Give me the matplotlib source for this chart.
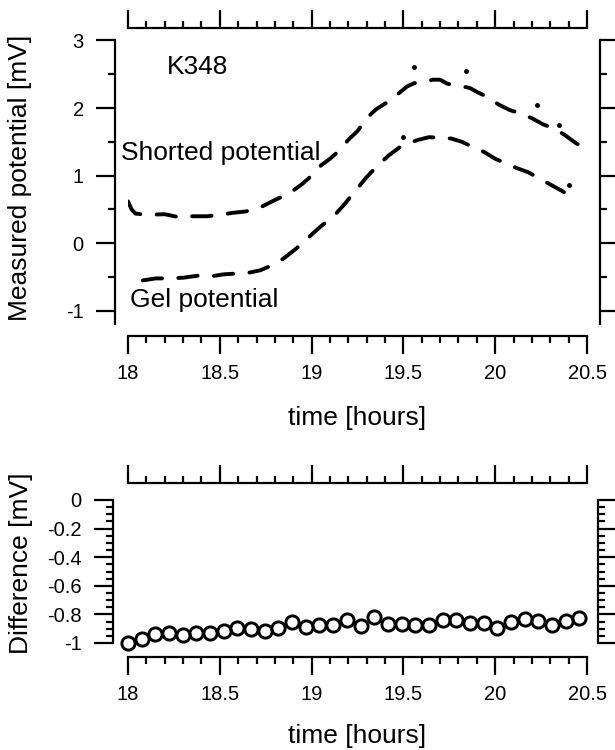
import matplotlib
matplotlib.use("Agg")
import matplotlib.pyplot as plt
from matplotlib.ticker import MultipleLocator, FuncFormatter

plt.rcParams["font.family"] = ["Liberation Sans", "DejaVu Sans"]
plt.rcParams["axes.unicode_minus"] = False

# --- data ------------------------------------------------------------------
shorted_t = [18.00, 18.02, 18.04, 18.10, 18.20, 18.27, 18.35, 18.43, 18.50, 18.57,
             18.64, 18.72, 18.80, 18.88, 18.95, 19.00, 19.05, 19.10, 19.15, 19.20,
             19.25, 19.30, 19.35, 19.42, 19.48, 19.52, 19.56, 19.62, 19.66, 19.70,
             19.74, 19.80, 19.86, 19.90, 19.96, 20.02, 20.08, 20.14, 20.20, 20.26,
             20.32, 20.38, 20.44, 20.48]
shorted_v = [0.62, 0.50, 0.44, 0.42, 0.43, 0.39, 0.40, 0.40, 0.42, 0.45,
             0.47, 0.53, 0.64, 0.74, 0.88, 1.00, 1.15, 1.25, 1.37, 1.53,
             1.66, 1.85, 1.98, 2.10, 2.23, 2.32, 2.37, 2.39, 2.42, 2.42,
             2.36, 2.33, 2.30, 2.24, 2.16, 2.05, 1.97, 1.92, 1.85, 1.76,
             1.70, 1.60, 1.48, 1.42]
shorted_spike_t = [19.56, 19.84, 20.23, 20.35]
shorted_spike_v = [2.61, 2.55, 2.04, 1.75]

gel_t = [18.08, 18.15, 18.22, 18.30, 18.38, 18.45, 18.52, 18.58, 18.65, 18.72,
         18.79, 18.85, 18.92, 18.98, 19.05, 19.12, 19.18, 19.24, 19.30, 19.36,
         19.42, 19.48, 19.53, 19.58, 19.64, 19.70, 19.76, 19.82, 19.88, 19.94,
         20.00, 20.06, 20.12, 20.18, 20.24, 20.30, 20.36, 20.42]
gel_v = [-0.55, -0.52, -0.52, -0.51, -0.48, -0.49, -0.46, -0.45, -0.44, -0.40,
         -0.32, -0.22, -0.07, 0.08, 0.25, 0.40, 0.58, 0.78, 0.98, 1.15,
         1.30, 1.42, 1.48, 1.53, 1.57, 1.56, 1.55, 1.50, 1.42, 1.35,
         1.25, 1.18, 1.11, 1.05, 0.96, 0.87, 0.78, 0.68]
gel_spike_t = [19.50, 20.40]
gel_spike_v = [1.57, 0.86]

diff_t = [18.0 + 0.0745 * i for i in range(34)]
diff_v = [-1.00, -0.975, -0.94, -0.93, -0.945, -0.93, -0.93, -0.914, -0.897, -0.905,
          -0.916, -0.893, -0.851, -0.89, -0.874, -0.874, -0.839, -0.881, -0.816, -0.867,
          -0.867, -0.874, -0.874, -0.839, -0.839, -0.858, -0.862, -0.897, -0.851, -0.835,
          -0.844, -0.874, -0.844, -0.827]

TICK_FS = 14.5
LABEL_FS = 19
W, H = 615, 750


def tick_fmt(v, _):
    v = round(v, 6)
    return f"{v:g}" if v != 0 else "0"


def frame(ax, out_left, out_right, out_top, out_bottom, ylo, yhi, maj, minr):
    """Igor-style detached frame: every spine pushed outward, ticks outside."""
    for side, off in (("left", out_left), ("right", out_right),
                      ("top", out_top), ("bottom", out_bottom)):
        ax.spines[side].set_position(("outward", off))
        ax.spines[side].set_linewidth(1.6)
    ax.spines["left"].set_bounds(ylo, yhi)
    ax.spines["right"].set_bounds(ylo, yhi)
    ax.spines["top"].set_bounds(18, 20.5)
    ax.spines["bottom"].set_bounds(18, 20.5)
    ax.set_xlim(18, 20.5)
    ax.xaxis.set_major_locator(MultipleLocator(0.5))
    ax.xaxis.set_minor_locator(MultipleLocator(0.1))
    ax.xaxis.set_major_formatter(FuncFormatter(tick_fmt))
    ax.yaxis.set_major_locator(MultipleLocator(maj))
    ax.yaxis.set_minor_locator(MultipleLocator(minr))
    ax.yaxis.set_major_formatter(FuncFormatter(tick_fmt))
    ax.tick_params(which="both", direction="out", top=True, right=True,
                   labeltop=False, labelright=False, width=1.6, labelsize=TICK_FS)
    ax.tick_params(axis="x", which="major", length=13, pad=7)
    ax.tick_params(axis="y", which="major", length=14, pad=8.5)
    ax.tick_params(which="minor", length=5)


fig = plt.figure(figsize=(W / 100, H / 100), dpi=100)

# upper panel: pixel box x 128..587, y 40.5..323.7
ax1 = fig.add_axes([128 / W, 1 - 323.7 / H, 459 / W, 283.2 / H])
ax1.set_ylim(-1.19, 3)
frame(ax1, 9.4, 9.4, 9.0, 8.9, -1.19, 3, 1, 0.5)

ax1.plot(shorted_t, shorted_v, color="black", lw=2.8, dashes=(5, 4.2),
         dash_capstyle="round")
ax1.plot(gel_t, gel_v, color="black", lw=2.8, dashes=(5, 4.2),
         dash_capstyle="round")
ax1.plot(shorted_spike_t, shorted_spike_v, "o", color="black", ms=2.5)
ax1.plot(gel_spike_t, gel_spike_v, "o", color="black", ms=2.5)

ax1.text(18.21, 2.61, "K348", fontsize=LABEL_FS, va="center", ha="left")
ax1.text(17.96, 1.34, "Shorted potential", fontsize=LABEL_FS, va="center", ha="left")
ax1.text(18.01, -0.84, "Gel potential", fontsize=LABEL_FS, va="center", ha="left")

# lower panel: pixel box x 128..587, y 500..643
ax2 = fig.add_axes([128 / W, 1 - 643 / H, 459 / W, 143 / H])
ax2.set_ylim(-1.0, 0)
frame(ax2, 11, 8, 12, 10, -1.0, 0, 0.2, 0.05)
ax2.plot(diff_t, diff_v, "o", mfc="none", mec="black", ms=9.5, mew=2.1,
         clip_on=False)

fig.text(357 / W, 1 - 418 / H, "time [hours]", fontsize=LABEL_FS, ha="center", va="center")
fig.text(357 / W, 1 - 736 / H, "time [hours]", fontsize=LABEL_FS, ha="center", va="center")
fig.text(20 / W, 1 - 178 / H, "Measured potential [mV]", fontsize=LABEL_FS,
         rotation=90, ha="center", va="center")
fig.text(21 / W, 1 - 563 / H, "Difference [mV]", fontsize=LABEL_FS,
         rotation=90, ha="center", va="center")

fig.savefig("out.png", dpi=100)
